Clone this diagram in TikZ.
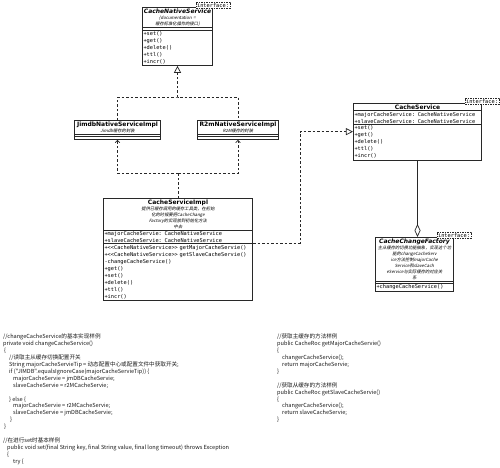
\documentclass[tikz,border=0pt]{standalone}
\usepackage{fontspec}
\setmonofont{DejaVu Sans Mono}
\newfontfamily\umlsans{DejaVu Sans}
\newfontfamily\cjkdoc[FakeSlant=0.2]{Noto Sans CJK SC}
\newfontfamily\cjkcode{Noto Sans CJK SC}
\usetikzlibrary{
    arrows.meta,
    positioning,
    shapes.multipart
}
\definecolor{UmlLine}{RGB}{40,40,40}
\definecolor{CodeInk}{RGB}{25,25,25}
\newcommand{\clsname}[1]{{\umlsans\bfseries\fontsize{6}{7.5}\selectfont #1\par}}
\newcommand{\clsnamei}[1]{{\umlsans\bfseries\itshape\fontsize{6}{7.5}\selectfont #1\par}}
\newcommand{\clsdoc}[1]{{\cjkdoc\fontsize{4.3}{6}\selectfont #1\par}}
\tikzset{
  umlclass/.style = {rectangle split, rectangle split parts=3,
                     draw=UmlLine, line width=0.7pt, fill=white,
                     anchor=north, text width=#1, align=left,
                     inner xsep=1.2pt, inner ysep=1pt,
                     font=\ttfamily\fontsize{5.3}{7}\selectfont},
  ifacetag/.style = {draw=UmlLine, line width=0.5pt, fill=white,
                     dash pattern=on 1.5pt off 1pt, inner sep=1pt,
                     font=\ttfamily\fontsize{5.3}{6}\selectfont},
  codetxt/.style  = {anchor=north west, align=left, inner sep=0pt,
                     text=CodeInk,
                     font=\cjkcode\fontsize{5.6}{6.9}\selectfont},
  dashline/.style = {draw=UmlLine, line width=0.7pt,
                     dash pattern=on 2.5pt off 2pt},
  realize/.style  = {dashline, -{Triangle[open, length=7pt, width=7pt]}},
  depend/.style   = {dashline, -{Straight Barb[length=2.5pt, width=4.5pt]}},
  aggreg/.style   = {draw=UmlLine, line width=0.7pt,
                     -{Diamond[open, length=13pt, width=6pt]}}
}
\begin{document}
\begin{tikzpicture}[x=1pt, y=-1pt]
  \fill[white] (0,0) rectangle (500,467);
  \useasboundingbox (0,0) rectangle (500,467);

  % classes
  \node[umlclass=68pt] (cns) at (177.5,7)
    {\centering\clsnamei{CacheNativeService}%
     \clsdoc{\{documentation =\\缓存标准化操作的接口\}}
     \nodepart{second}
     \nodepart{third}+set()\\+get()\\+delete()\\+ttl()\\+incr()};
  \node[ifacetag, above=-1.5pt of cns.north east] (cnstag) {interface:};

  \node[umlclass=84pt] (jimdb) at (117.5,120)
    {\centering\clsname{JimdbNativeServiceImpl}\clsdoc{Jimdb缓存的封装}
     \nodepart{second}
     \nodepart{third}};
  \node[umlclass=79pt] (r2m) at (238,120)
    {\centering\clsname{R2mNativeServiceImpl}\clsdoc{R2M缓存的封装}
     \nodepart{second}
     \nodepart{third}};

  \node[umlclass=147pt] (impl) at (178,198)
    {\centering\clsname{CacheServiceImpl}%
     \clsdoc{提供已缓存调用的缓存工具类，在初始\\化的时候要把CacheChange\\Factory的实现放到初始化方法\\中去}
     \nodepart{second}+majorCacheServie: CacheNativeService\\
                      +slaveCacheServie: CacheNativeService
     \nodepart{third}+<<CacheNativeService>> getMajorCacheServie()\\
                     +<<CacheNativeService>> getSlaveCacheServie()\\
                     -changeCacheService()\\+get()\\+set()\\+delete()\\+ttl()\\+incr()};

  \node[umlclass=126pt] (cs) at (417.5,103)
    {\centering\clsname{CacheService}
     \nodepart{second}+majorCacheService: CacheNativeService\\
                      +slaveCacheService: CacheNativeService
     \nodepart{third}+set()\\+get()\\+delete()\\+ttl()\\+incr()};
  \node[ifacetag, above=-1.5pt of cs.north east] (cstag) {interface:};

  \node[umlclass=76pt] (ccf) at (414.5,237)
    {\centering\clsnamei{CacheChangeFactory}%
     \clsdoc{主从缓存的切换功能抽象，实现这个功\\能的changeCacheServ\\ice方法控制majorCache\\Service和slaveCach\\eService与实际缓存的对应关\\系}
     \nodepart{second}
     \nodepart{third}+changeCacheService()};
  \node[ifacetag, above=-1.5pt of ccf.north east] (ccftag) {interface:};

  % connectors
  \coordinate (upbus)   at (177.5,97);
  \coordinate (lowbus)  at (178,173);
  \coordinate (sidebus) at (300,243);
  \draw[dashline] (jimdb.north) |- (upbus) -| (r2m.north);
  \draw[realize]  (upbus) -- (cns.south);
  \draw[dashline] (impl.north) -- (lowbus);
  \draw[depend]   (lowbus) -| (jimdb.south);
  \draw[depend]   (lowbus) -| (r2m.south);
  \draw[realize]  (impl.east |- sidebus) -- (sidebus) |- (cs.west);
  \draw[aggreg]   (cs.south) -- (cs.south |- ccf.north);

  % code samples
  \node[codetxt] (changecode) at (3,334)
    {//changeCacheService的基本实现样例\\
     private void changeCacheService()\\
     \hspace*{1pt}\{\\
     \hspace*{6pt}//读取主从缓存切换配置开关\\
     \hspace*{6pt}String majorCacheServieTip = 动态配置中心或配置文件中获取开关;\\
     \hspace*{6pt}if ("JIMDB".equalsIgnoreCase(majorCacheServieTip)) \{\\
     \hspace*{10pt}majorCacheServie = jmDBCacheServie;\\
     \hspace*{10pt}slaveCacheServie = r2MCacheServie;\\[6.9pt]
     \hspace*{6pt}\} else \{\\
     \hspace*{10pt}majorCacheServie = r2MCacheServie;\\
     \hspace*{10pt}slaveCacheServie = jmDBCacheServie;\\
     \hspace*{7pt}\}\\
     \hspace*{1pt}\}\\[6.9pt]
     //在进行set时基本样例\\
     \hspace*{4pt}public void set(final String key, final String value, final long timeout) throws Exception\\
     \hspace*{4pt}\{\\
     \hspace*{10pt}try \{};

  \node[codetxt] (getcode) at (277,334)
    {//获取主缓存的方法样例\\
     public CacheRoc getMajorCacheServie()\\
     \{\\
     \hspace*{5pt}changerCacheService();\\
     \hspace*{5pt}return majorCacheServie;\\
     \}\\[6.9pt]
     //获取从缓存的方法样例\\
     public CacheRoc getSlaveCacheServie()\\
     \{\\
     \hspace*{5pt}changerCacheService();\\
     \hspace*{5pt}return slaveCacheServie;\\
     \}};
\end{tikzpicture}
\end{document}
